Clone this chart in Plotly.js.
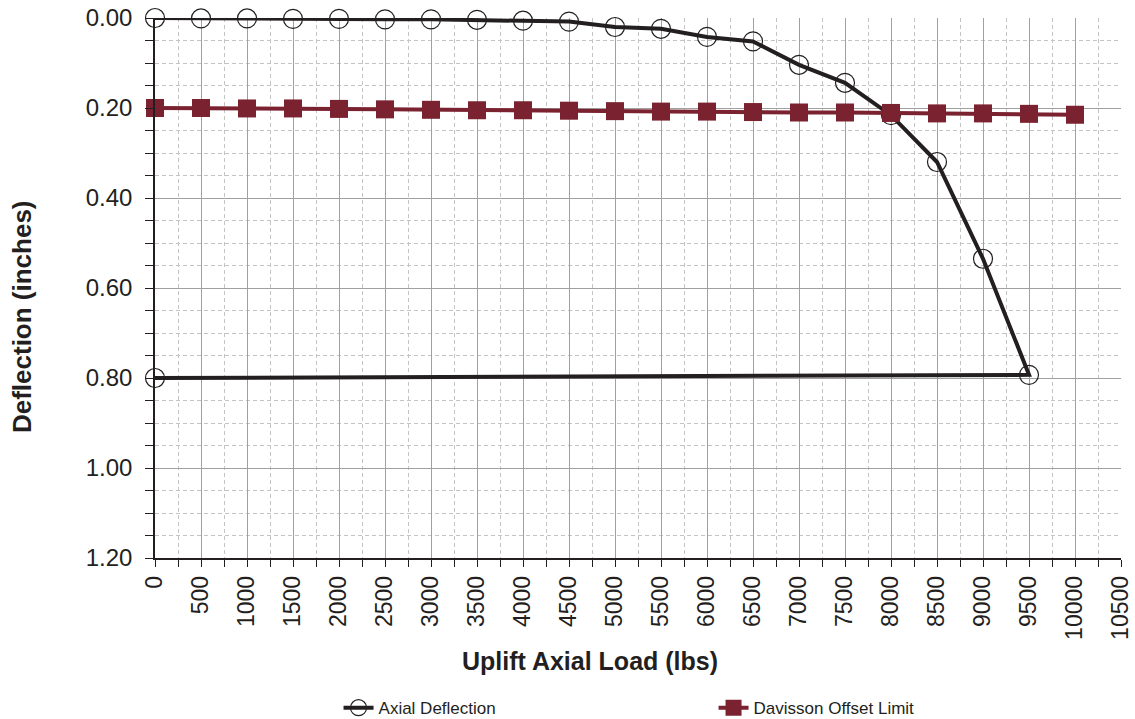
<!DOCTYPE html>
<html>
<head>
<meta charset="utf-8">
<script src="https://cdn.plot.ly/plotly-3.0.1.min.js"></script>
<style>html,body{margin:0;padding:0;background:#fff;}#chart{width:1135px;height:719px;}</style>
</head>
<body>
<div id="chart"></div>
<script>
const axialLoad = [0, 500, 1000, 1500, 2000, 2500, 3000, 3500, 4000, 4500, 5000, 5500, 6000, 6500, 7000, 7500, 8000, 8500, 9000, 9500, 0];
const axialDeflection = [0.000, 0.001, 0.001, 0.002, 0.002, 0.003, 0.003, 0.004, 0.006, 0.008, 0.020, 0.024, 0.042, 0.052, 0.104, 0.144, 0.216, 0.320, 0.535, 0.793, 0.800];
const davissonLoad = [0, 500, 1000, 1500, 2000, 2500, 3000, 3500, 4000, 4500, 5000, 5500, 6000, 6500, 7000, 7500, 8000, 8500, 9000, 9500, 10000];
const davissonLimit = [0.200, 0.200, 0.201, 0.201, 0.202, 0.203, 0.204, 0.205, 0.205, 0.206, 0.207, 0.208, 0.208, 0.209, 0.210, 0.210, 0.211, 0.212, 0.212, 0.213, 0.215];
const xTickVals = [0, 500, 1000, 1500, 2000, 2500, 3000, 3500, 4000, 4500, 5000, 5500, 6000, 6500, 7000, 7500, 8000, 8500, 9000, 9500, 10000, 10500];
const yTickVals = [0, 0.2, 0.4, 0.6, 0.8, 1.0, 1.2];
const yTickText = ["0.00", "0.20", "0.40", "0.60", "0.80", "1.00", "1.20"];
const xTitle = "Uplift Axial Load (lbs)";
const yTitle = "Deflection (inches)";

const font = "Liberation Sans, Arial, sans-serif";
const traces = [
  {
    x: axialLoad, y: axialDeflection, name: "Axial Deflection", type: "scatter", mode: "lines+markers",
    line: {color: "#231f20", width: 4},
    marker: {symbol: "circle-open", size: 19, color: "#231f20", line: {width: 1.2, color: "#231f20"}},
    cliponaxis: false
  },
  {
    x: davissonLoad, y: davissonLimit, name: "Davisson Offset Limit", type: "scatter", mode: "lines+markers",
    line: {color: "#7b2230", width: 4},
    marker: {symbol: "square", size: 18, color: "#7b2230"},
    cliponaxis: false
  }
];
const layout = {
  width: 1135, height: 719,
  margin: {l: 155, r: 14, t: 18, b: 161, autoexpand: false},
  paper_bgcolor: "#fff", plot_bgcolor: "#fff",
  font: {family: font, color: "#231f20", size: 20},
  showlegend: true,
  legend: {orientation: "h", x: 0.19, xanchor: "left", y: -0.278, yanchor: "middle",
           font: {size: 17, family: font}, entrywidth: 330, itemwidth: 30, traceorder: "normal"},
  xaxis: {
    automargin: false,
    range: [0, 10500], tickvals: xTickVals, ticktext: xTickVals.map(String), tickangle: -90,
    tickfont: {size: 23}, ticks: "outside", ticklen: 7, tickcolor: "#231f20",
    showline: true, linecolor: "#231f20", linewidth: 1.5, zeroline: false,
    showgrid: true, gridcolor: "#a0a0a0", gridwidth: 1,
    minor: {dtick: 250, tick0: 0, showgrid: true, gridcolor: "#c4c4c4", griddash: "4px,3px", gridwidth: 1, ticks: "outside", ticklen: 7, tickcolor: "#231f20"}
  },
  yaxis: {
    automargin: false,
    range: [1.2, 0], tickvals: yTickVals, ticktext: yTickText,
    tickfont: {size: 24}, ticks: "outside", ticklen: 8, tickcolor: "#231f20", ticklabelstandoff: 8,
    showline: true, linecolor: "#231f20", linewidth: 1.5, zeroline: false,
    showgrid: true, gridcolor: "#a0a0a0", gridwidth: 1,
    minor: {dtick: 0.05, tick0: 0, showgrid: true, gridcolor: "#c4c4c4", griddash: "4px,3px", gridwidth: 1, ticks: "outside", ticklen: 8, tickcolor: "#231f20"}
  },
  annotations: [
    {text: "<b>" + xTitle + "</b>", xref: "paper", yref: "paper", x: 0.4503, y: -0.1907,
     xanchor: "center", yanchor: "middle", showarrow: false, font: {size: 25, family: font, color: "#231f20"}},
    {text: "<b>" + yTitle + "</b>", xref: "paper", yref: "paper", x: -0.1377, y: 0.448, textangle: -90,
     xanchor: "center", yanchor: "middle", showarrow: false, font: {size: 26, family: font, color: "#231f20"}}
  ]
};
Plotly.newPlot("chart", traces, layout, {displayModeBar: false, responsive: false});
</script>
</body>
</html>
